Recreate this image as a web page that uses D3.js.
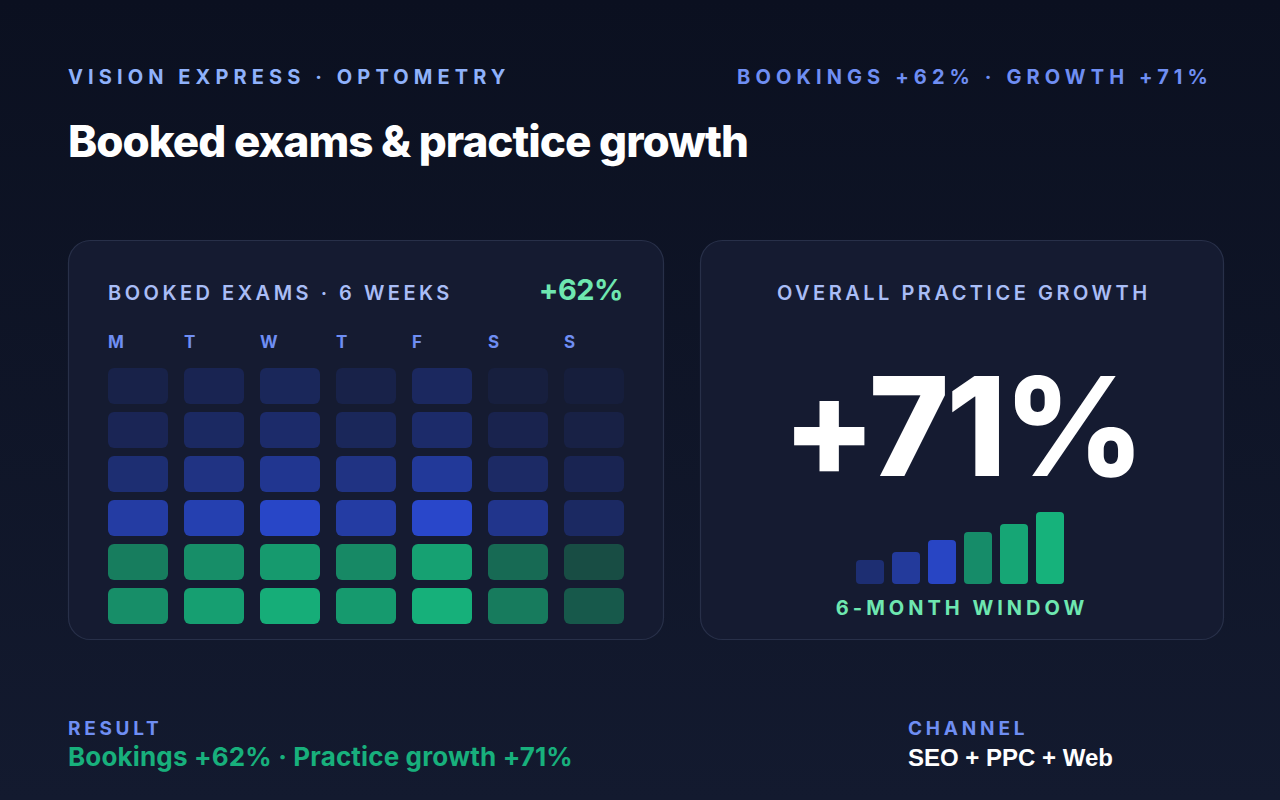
<!DOCTYPE html>
<html>
<head>
<meta charset="utf-8">
<script src="https://cdn.jsdelivr.net/npm/d3@7"></script>
<style>
  html, body { margin: 0; padding: 0; background: #0b1020; }
  #chart { width: 1280px; height: 800px; }
  text { font-family: Inter, "Noto Sans", sans-serif; }
</style>
</head>
<body>
<div id="chart"></div>
<script>
// Booked exams heatmap + practice growth (6-month window)

const days = ['M', 'T', 'W', 'T', 'F', 'S', 'S'];
const weeks = ['W1', 'W2', 'W3', 'W4', 'W5', 'W6'];
// weeks 1-4 before campaign (blue), weeks 5-6 after (green)
const phase = ['before', 'before', 'before', 'before', 'after', 'after'];
// relative booking intensity per day, 0-100
const intensity = [
    [15, 20, 25, 15, 28, 8, 7],
    [22, 30, 35, 25, 35, 18, 12],
    [40, 50, 58, 50, 64, 32, 20],
    [70, 78, 92, 70, 94, 56, 30],
    [56, 70, 80, 66, 86, 40, 16],
    [70, 84, 96, 80, 98, 54, 26]
];
const months = ['M1', 'M2', 'M3', 'M4', 'M5', 'M6'];
const growthValues = [24, 32, 44, 52, 60, 72];
const growthPhase = ['before', 'before', 'before', 'after', 'after', 'after'];
const growthTone = [40, 65, 90, 75, 92, 100];

const W = 1280, H = 800;
const cardBg = '#151b31';
const blue = '#2a4ad4';
const green = '#16b27b';

const svg = d3.select('#chart').append('svg')
    .attr('width', W).attr('height', H);

const defs = svg.append('defs');
const grad = defs.append('linearGradient').attr('id', 'bg')
    .attr('x1', 0).attr('y1', 0).attr('x2', 0).attr('y2', 1);
grad.append('stop').attr('offset', 0).attr('stop-color', '#0b1020');
grad.append('stop').attr('offset', 1).attr('stop-color', '#131a2f');
svg.append('rect').attr('width', W).attr('height', H).attr('fill', 'url(#bg)');

// header
svg.append('text').attr('x', 68).attr('y', 84)
    .attr('font-size', 20).attr('font-weight', 700).attr('letter-spacing', 5.1)
    .attr('fill', '#8fb1fb').text('VISION EXPRESS · OPTOMETRY');
svg.append('text').attr('x', 1213).attr('y', 84).attr('text-anchor', 'end')
    .attr('font-size', 20).attr('font-weight', 700).attr('letter-spacing', 5.1)
    .attr('fill', '#6f8ef3').text('BOOKINGS +62% · GROWTH +71%');
svg.append('text').attr('x', 68).attr('y', 157)
    .attr('font-size', 44).attr('font-weight', 800).attr('letter-spacing', -1)
    .attr('fill', '#ffffff').text('Booked exams & practice growth');

// cards
function card(x, y, w, h) {
    svg.append('rect').attr('x', x + 0.5).attr('y', y + 0.5)
        .attr('width', w - 1).attr('height', h - 1).attr('rx', 22)
        .attr('fill', cardBg).attr('stroke', '#283049').attr('stroke-width', 1.2);
}
card(68, 240, 596, 400);
card(700, 240, 524, 400);

//  Left: heatmap 
svg.append('text').attr('x', 108).attr('y', 300)
    .attr('font-size', 20).attr('font-weight', 600).attr('letter-spacing', 3.5)
    .attr('fill', '#a9bdf6').text('BOOKED EXAMS · 6 WEEKS');
svg.append('text').attr('x', 623).attr('y', 300).attr('text-anchor', 'end')
    .attr('font-size', 29).attr('font-weight', 700).attr('letter-spacing', -0.5)
    .attr('fill', '#6ee7b0').text('+62%');

const x = d3.scaleBand().domain(d3.range(days.length)).range([108, 624]).paddingInner(16 / 76).paddingOuter(0);
const y = d3.scaleBand().domain(d3.range(weeks.length)).range([368, 624]).paddingInner(8 / 44).paddingOuter(0);
const tone = {
    before: d3.scaleLinear().domain([0, 100]).range([cardBg, blue]).interpolate(d3.interpolateRgb),
    after: d3.scaleLinear().domain([0, 100]).range(['#183a3a', green]).interpolate(d3.interpolateRgb)
};

svg.append('g').selectAll('text').data(days).join('text')
    .attr('x', (d, i) => x(i)).attr('y', 348)
    .attr('font-size', 17).attr('font-weight', 700)
    .attr('fill', '#6f8ef3').text(d => d);

const cells = [];
intensity.forEach((row, r) => row.forEach((v, c) => cells.push({ r, c, v })));
svg.append('g').selectAll('rect').data(cells).join('rect')
    .attr('x', d => x(d.c)).attr('y', d => y(d.r))
    .attr('width', x.bandwidth()).attr('height', y.bandwidth())
    .attr('rx', 6)
    .attr('fill', d => tone[phase[d.r]](d.v));

//  Right: growth 
const cx = 962;
svg.append('text').attr('x', cx + 1.75).attr('y', 300).attr('text-anchor', 'middle')
    .attr('font-size', 20).attr('font-weight', 600).attr('letter-spacing', 3.5)
    .attr('fill', '#a9bdf6').text('OVERALL PRACTICE GROWTH');
svg.append('text').attr('x', cx).attr('y', 476).attr('text-anchor', 'middle')
    .attr('font-size', 137).attr('font-weight', 800).attr('letter-spacing', -3)
    .attr('fill', '#ffffff').text('+71%');

const bx = d3.scaleBand().domain(months).range([856, 1064]).paddingInner(8 / 36).paddingOuter(0);
const by = d3.scaleLinear().domain([0, 72]).range([584, 512]);
const barTone = {
    before: d3.scaleLinear().domain([0, 100]).range([cardBg, blue]),
    after: d3.scaleLinear().domain([0, 100]).range([cardBg, green])
};
svg.append('g').selectAll('rect').data(growthValues).join('rect')
    .attr('x', (d, i) => bx(months[i])).attr('y', d => by(d))
    .attr('width', bx.bandwidth()).attr('height', d => by(0) - by(d))
    .attr('rx', 4)
    .attr('fill', (d, i) => barTone[growthPhase[i]](growthTone[i]));

svg.append('text').attr('x', cx).attr('y', 615).attr('text-anchor', 'middle')
    .attr('font-size', 20).attr('font-weight', 700).attr('letter-spacing', 4)
    .attr('fill', '#6ee7b0').text('6-MONTH WINDOW');

//  Footer 
svg.append('text').attr('x', 68).attr('y', 735)
    .attr('font-size', 19).attr('font-weight', 700).attr('letter-spacing', 3.7)
    .attr('fill', '#6f8ef3').text('RESULT');
svg.append('text').attr('x', 68).attr('y', 766)
    .attr('font-size', 26).attr('font-weight', 700).attr('letter-spacing', 0.15)
    .attr('fill', '#18b07c').text('Bookings +62% · Practice growth +71%');
svg.append('text').attr('x', 908).attr('y', 735)
    .attr('font-size', 19).attr('font-weight', 700).attr('letter-spacing', 3.8)
    .attr('fill', '#6f8ef3').text('CHANNEL');
svg.append('text').attr('x', 908).attr('y', 766)
    .attr('font-size', 24).attr('font-weight', 600)
    .style('font-family', '"Liberation Sans", Arial, sans-serif')
    .attr('fill', '#ffffff').text('SEO + PPC + Web');
</script>
</body>
</html>
